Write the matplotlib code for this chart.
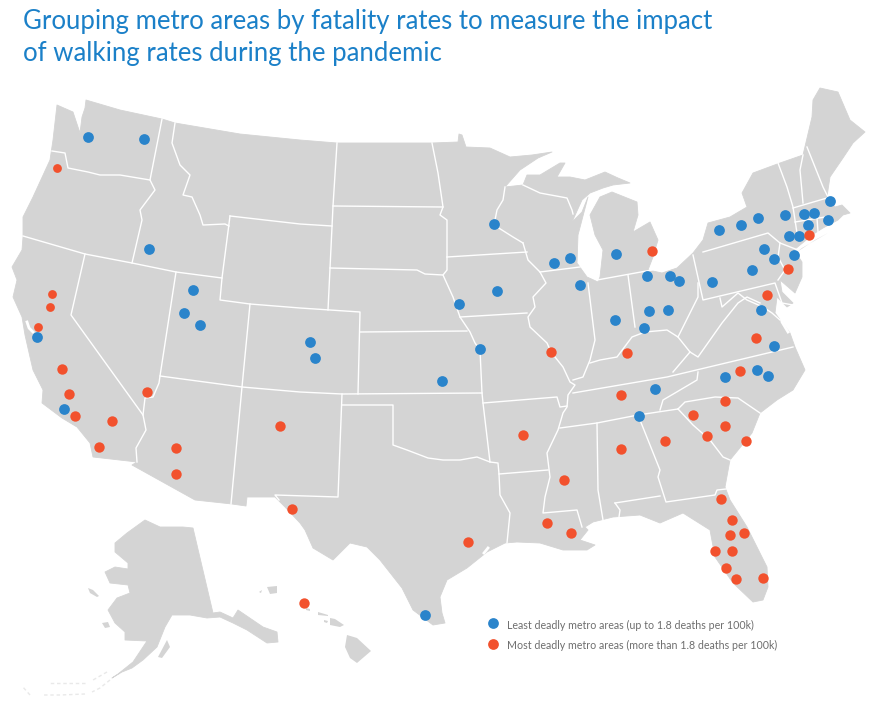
import matplotlib
matplotlib.use("Agg")
import matplotlib.pyplot as plt
from matplotlib.patches import Polygon

# everything is in picture pixels, y going down
LAND = "#d4d4d4"
BLUE = "#2a84cb"
RED = "#f2512d"

title_lines = ["Grouping metro areas by fatality rates to measure the impact",
               "of walking rates during the pandemic"]
legend_labels = ["Least deadly metro areas (up to 1.8 deaths per 100k)",
                 "Most deadly metro areas (more than 1.8 deaths per 100k)"]

# metro areas
blue_x = [88, 144, 149, 193, 184, 200, 37, 64, 310, 315, 442, 480, 459, 497, 494, 554, 570, 580,
          616, 647, 670, 679, 712, 615, 668, 649, 644, 719, 741, 758, 785, 804, 814, 830, 828,
          808, 789, 799, 764, 774, 794, 752, 761, 774, 725, 757, 768, 655, 639, 425]
blue_y = [137, 139, 249, 290, 313, 325, 337, 409, 342, 358, 381, 349, 304, 291, 224, 263, 258, 285,
          254, 276, 276, 281, 282, 320, 310, 311, 328, 230, 225, 218, 215, 214, 213, 201, 220,
          225, 236, 236, 249, 259, 255, 270, 310, 346, 377, 370, 376, 389, 416, 615]
red_x = [62, 69, 75, 112, 99, 147, 176, 176, 280, 292, 304, 468, 523, 564, 547, 571, 551, 627,
         621, 621, 665, 693, 725, 707, 746, 725, 740, 756, 767, 788, 809, 652, 721, 732, 730,
         744, 715, 732, 726, 736, 763]
red_y = [369, 394, 416, 421, 447, 392, 448, 474, 426, 509, 603, 542, 435, 480, 523, 533, 352, 353,
         395, 449, 441, 415, 426, 436, 441, 401, 371, 338, 295, 269, 235, 251, 499, 520, 535,
         533, 551, 551, 568, 579, 578]
red_small_x = [57, 52, 50, 38]
red_small_y = [168, 294, 307, 327]

# lower 48 coast and border, clockwise from Puget Sound
lower48 = [(86, 100), (120, 110), (162, 119), (175, 123), (240, 134), (300, 140), (337, 143), (432, 143),
           (458, 142), (459, 134), (462, 135), (466, 147), (490, 148), (510, 157), (532, 155), (552, 152),
           (538, 158), (520, 170), (505, 187), (523, 185), (527, 175), (540, 175), (560, 163), (565, 163),
           (557, 177), (570, 177), (585, 180), (605, 172), (618, 178), (630, 183), (613, 185), (603, 188),
           (590, 193), (582, 200), (572, 222), (582, 212), (588, 197), (578, 235), (577, 263), (587, 277),
           (598, 282), (600, 277), (603, 250), (595, 235), (590, 215), (600, 197), (612, 192), (637, 202),
           (638, 215), (633, 232), (650, 222), (658, 240), (653, 257),
           (648, 270), (662, 273), (677, 268), (693, 253), (703, 240), (708, 223), (730, 217), (747, 207),
           (742, 193), (753, 173), (780, 163), (803, 155), (812, 117), (813, 100), (820, 88), (838, 92),
           (850, 120), (865, 132), (853, 143), (843, 158), (830, 177), (828, 190), (827, 197), (835, 207),
           (842, 205), (850, 213), (843, 215), (838, 220), (823, 228), (815, 233), (800, 245), (794, 250), (802, 262),
           (802, 277), (795, 293), (780, 280), (782, 292), (793, 303), (787, 307), (777, 297),
           (775, 313), (790, 333), (795, 347), (805, 370), (793, 390), (777, 400), (760, 413), (752, 433),
           (730, 460), (725, 487), (730, 500), (747, 527), (767, 567), (768, 587), (763, 600), (753, 602),
           (733, 583), (715, 557), (710, 530), (683, 513), (660, 523), (640, 515), (613, 517), (593, 522),
           (585, 527), (588, 530), (580, 540), (595, 545), (587, 550), (563, 550), (540, 543), (517, 542),
           (505, 543), (487, 552), (467, 568), (447, 580), (440, 597), (442, 613), (445, 623), (433, 625),
           (413, 610), (402, 588), (380, 560), (367, 547), (350, 543), (340, 553), (333, 560), (313, 548),
           (305, 530), (300, 523), (285, 507), (275, 497), (247, 497), (246, 506), (232, 504), (195, 500),
           (132, 465), (137, 462), (93, 457), (90, 443), (77, 427), (62, 418), (42, 403), (43, 390),
           (33, 370), (30, 357), (25, 335), (22, 317), (13, 297), (17, 280), (12, 267), (22, 250),
           (23, 237), (23, 217), (33, 197), (50, 160), (53, 140), (57, 105), (73, 112), (80, 133),
           (82, 117), (85, 108)]

# state lines
borders = [
    [(52, 151), (65, 153), (68, 168), (88, 172), (100, 175), (120, 175), (150, 180)],
    [(162, 119), (150, 180), (155, 190), (140, 210), (142, 220), (132, 263)],
    [(175, 123), (172, 143), (180, 165), (190, 175), (183, 195), (192, 197), (200, 215), (203, 225), (225, 224), (229, 226)],
    [(230, 216), (300, 224), (332, 226)],
    [(230, 216), (222, 278), (220, 300), (250, 304), (300, 308), (360, 312), (358, 394)],
    [(23, 236), (85, 254), (132, 263), (176, 272), (222, 278)],
    [(85, 254), (71, 315), (143, 415), (146, 430), (136, 448), (137, 462)],
    [(143, 415), (145, 398), (153, 397), (159, 383), (160, 376), (176, 272)],
    [(160, 376), (242, 387), (300, 392), (342, 394), (482, 393)],
    [(250, 304), (242, 387), (231, 504)],
    [(342, 394), (338, 497), (275, 495), (279, 500)],
    [(360, 332), (467, 331)],
    [(480, 350), (482, 393), (483, 403), (490, 462)],
    [(342, 405), (393, 405), (393, 445), (407, 450), (428, 458), (443, 460), (460, 460), (477, 457), (490, 462), (498, 463),
     (499, 474), (500, 495), (510, 513), (507, 543)],
    [(483, 403), (557, 397), (560, 407), (567, 406)],
    [(523, 243), (528, 260), (540, 272), (546, 283), (533, 297), (535, 307), (528, 317), (530, 327), (547, 343), (551, 352),
     (563, 367), (570, 382), (575, 385), (568, 395), (567, 407), (563, 413), (558, 430), (547, 453), (550, 477), (545, 497),
     (543, 513), (577, 510), (582, 527)],
    [(499, 474), (548, 470)],
    [(505, 187), (503, 200), (497, 210), (494, 225), (513, 237), (523, 243)],
    [(447, 257), (527, 252)],
    [(432, 143), (438, 173), (443, 207), (440, 215), (447, 220), (447, 257), (447, 270), (443, 275), (453, 297), (460, 317),
     (470, 332), (475, 343), (480, 350)],
    [(330, 268), (417, 270), (425, 274), (443, 275)],
    [(333, 206), (443, 207)],
    [(337, 143), (333, 206), (328, 310)],
    [(460, 317), (527, 313)],
    [(540, 272), (580, 267)],
    [(523, 185), (540, 193), (567, 198), (572, 210), (573, 214)],
    [(588, 283), (595, 340), (590, 360), (583, 377), (573, 380)],
    [(573, 393), (667, 377), (793, 347)],
    [(698, 372), (697, 380), (675, 393), (663, 400), (660, 410)],
    [(560, 428), (597, 423), (638, 415), (678, 409)],
    [(597, 423), (598, 490), (603, 520)],
    [(640, 420), (660, 470), (658, 477), (666, 502), (715, 495), (717, 490), (726, 489)],
    [(615, 503), (660, 496)],
    [(615, 503), (620, 510), (619, 517)],
    [(678, 409), (693, 425), (710, 440), (723, 457), (730, 460)],
    [(678, 409), (685, 402), (715, 397), (738, 398), (760, 413)],
    [(693, 255), (703, 300), (775, 283), (782, 303), (793, 305)],
    [(698, 283), (698, 297), (690, 313), (678, 337), (667, 330), (645, 332), (632, 337), (617, 357), (600, 360), (590, 363)],
    [(628, 275), (635, 327)],
    [(597, 280), (652, 270)],
    [(678, 337), (690, 352), (698, 357), (722, 323), (738, 303), (747, 297), (760, 303)],
    [(690, 352), (673, 372)],
    [(720, 298), (722, 307), (738, 293), (747, 300), (763, 307), (772, 313), (780, 320)],
    [(703, 252), (768, 233), (780, 243), (798, 250)],
    [(780, 243), (778, 257), (785, 270), (778, 280)],
    [(778, 163), (787, 187), (793, 207), (797, 233)],
    [(803, 155), (800, 170), (803, 203)],
    [(793, 208), (827, 198)],
    [(807, 147), (823, 187), (828, 197)],
    [(795, 222), (825, 217)],
    [(817, 218), (818, 232)],
]
# bays and sounds, cut into the land with white strokes
bays = [
    [(27, 322), (29, 328), (33, 332)],
    [(780, 310), (782, 322), (788, 332)],
    [(484, 553), (488, 548)],
]

# alaska and the islands
alaska = [(193, 528), (213, 613), (220, 612), (233, 618), (238, 610), (263, 627), (277, 632), (278, 642), (267, 643),
          (247, 630), (233, 623), (220, 617), (207, 618), (190, 615), (172, 615), (165, 627), (157, 647), (143, 660),
          (132, 668), (122, 672), (112, 678), (118, 674), (133, 662), (147, 641), (125, 640), (125, 632), (115, 623),
          (108, 610), (117, 598), (130, 593), (128, 585), (110, 583), (105, 572), (115, 567), (128, 569), (128, 563),
          (115, 552), (115, 543), (127, 533), (145, 520), (160, 527), (183, 527)]
islands = [
    [(158, 657), (167, 640), (170, 647), (162, 658)],          # kodiak
    [(88, 588), (93, 590), (99, 596), (97, 597), (90, 593)],   # nunivak
    [(102, 623), (108, 622), (110, 627), (105, 628)],
    [(347, 635), (357, 638), (371, 651), (357, 663), (350, 658), (345, 647)],  # hawaii
    [(330, 618), (335, 619), (344, 625), (340, 627), (330, 625)],
    [(318, 612), (328, 615), (328, 616), (318, 615)],
    [(306, 608), (310, 609), (310, 611), (306, 610)],
    [(324, 620), (328, 621), (327, 623), (324, 622)],
    [(267, 587), (277, 586), (277, 593), (270, 594)],
    [(259, 592), (262, 590), (261, 593)],
    [(797, 252), (815, 240), (828, 233), (802, 248)],          # long island
]
aleutians = [
    [(110, 680), (100, 688), (92, 692)],
    [(85, 694), (60, 695), (43, 695)],
    [(107, 672), (93, 680)],
    [(85, 683), (63, 683), (48, 683)],
    [(30, 695), (22, 686)],
]

fig = plt.figure(figsize=(8.94, 7.2), dpi=100)
ax = fig.add_axes([0, 0, 1, 1])
ax.set_xlim(0, 894)
ax.set_ylim(720, 0)
ax.axis("off")

ax.add_patch(Polygon(lower48, closed=True, fc=LAND, ec=LAND, lw=0.6, joinstyle="round", zorder=1))
ax.add_patch(Polygon(alaska, closed=True, fc=LAND, ec=LAND, lw=0.6, joinstyle="round", zorder=1))
for isl in islands:
    ax.add_patch(Polygon(isl, closed=True, fc=LAND, ec="none", zorder=1))
for line in aleutians:
    ax.plot([p[0] for p in line], [p[1] for p in line], color="#e9e9e9", lw=1.0, ls=(0, (2.5, 2)), zorder=1)

for line in borders:
    xs = [p[0] for p in line]
    ys = [p[1] for p in line]
    ax.plot(xs, ys, color="white", lw=1.0, solid_joinstyle="round", zorder=2)
for line in bays:
    ax.plot([p[0] for p in line], [p[1] for p in line], color="white", lw=2, zorder=2)

ax.scatter(blue_x, blue_y, s=60, c=BLUE, linewidths=0, zorder=3)
ax.scatter(red_x, red_y, s=56, c=RED, linewidths=0, zorder=4)
ax.scatter(red_small_x, red_small_y, s=40, c=RED, linewidths=0, zorder=4)

ax.text(23, 21, title_lines[0], color="#1b80c8", fontsize=18.5, family="Lato", va="center", ha="left")
ax.text(23, 53, title_lines[1], color="#1b80c8", fontsize=18.5, family="Lato", va="center", ha="left")

ax.scatter([493], [623], s=60, c=BLUE, linewidths=0, zorder=3)
ax.scatter([493], [644], s=60, c=RED, linewidths=0, zorder=3)
ax.text(507, 625, legend_labels[0], color="#6e6e6e", fontsize=7.7, family="Lato", va="center", ha="left")
ax.text(507, 645, legend_labels[1], color="#6e6e6e", fontsize=7.7, family="Lato", va="center", ha="left")

fig.savefig("out.png", dpi=100)
